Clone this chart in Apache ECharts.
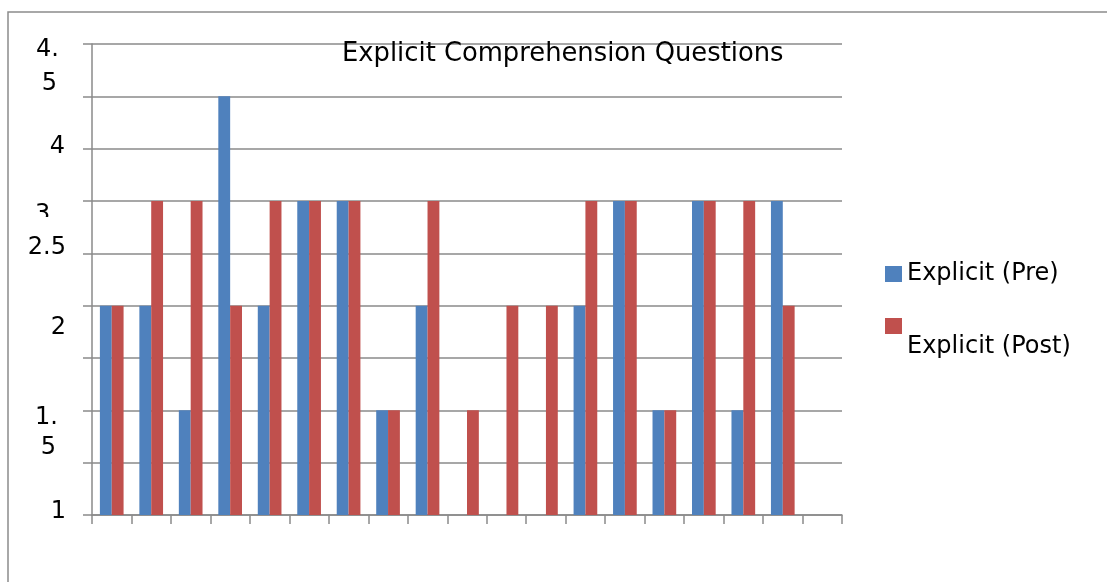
<!DOCTYPE html>
<html>
<head>
<meta charset="utf-8">
<script src="https://cdn.jsdelivr.net/npm/echarts@6/dist/echarts.min.js"></script>
<style>
  html, body { margin: 0; padding: 0; background: #fff; }
  #chart { width: 1107px; height: 582px; }
</style>
</head>
<body>
<div id="chart"></div>
<script>
// ---- data ----
const titleText = 'Explicit Comprehension Questions';
const seriesNames = ['Explicit (Pre)', 'Explicit (Post)'];
const categories = ['1', '2', '3', '4', '5', '6', '7', '8', '9', '10',
                    '11', '12', '13', '14', '15', '16', '17', '18', '19'];
const preValues  = [2, 2, 1, 4, 2, 3, 3, 1, 2, 0, 0, 0, 2, 3, 1, 3, 1, 3, null];
const postValues = [2, 3, 3, 2, 3, 3, 3, 1, 3, 1, 2, 2, 3, 3, 1, 3, 3, 2, null];
const yTickValues = [0, 1, 2, 2.5, 3, 3.5, 4.5];
const yTickLabels = ['1', '1.\n5', '2', '2.5', '3.', '4', '4.\n5'];

// ---- styling ----
const FONT = 'DejaVu Sans';
const GRID_GRAY = '#8a8a8a';
const COLORS = ['#4F81BD', '#C0504D'];

// Per-label placement: vertical shift (px) of the first line's centre from
// the tick, line height, and right padding for each line.
const labelPlacement = [
  { shift: -3, lh: 28, pad: [0] },
  { shift: 7,  lh: 30, pad: [8, 10] },
  { shift: 22, lh: 28, pad: [0] },
  { shift: -6, lh: 28, pad: [0] },
  { shift: 14, lh: 28, pad: [8] },
  { shift: -2, lh: 28, pad: [1] },
  { shift: 6,  lh: 34, pad: [7, 9] }
];

// Build rich styles and the formatted strings for the y-axis labels.
const yRich = {};
const yFormatted = {};
yTickValues.forEach(function (v, i) {
  const lines = yTickLabels[i].split('\n');
  const p = labelPlacement[i];
  const n = lines.length;
  const blockShift = p.shift + (n - 1) * p.lh / 2;
  const parts = [];
  lines.forEach(function (line, j) {
    const key = 't' + i + '_' + j;
    yRich[key] = {
      fontFamily: FONT, fontSize: 24, color: '#000',
      lineHeight: p.lh, padding: [0, p.pad[j] || 0, 0, 0]
    };
    parts.push('{' + key + '|' + line + '}');
  });
  if (Math.abs(blockShift) > 0.01) {
    const sk = 's' + i;
    yRich[sk] = { fontSize: 2, lineHeight: Math.abs(blockShift) * 2 };
    if (blockShift > 0) parts.unshift('{' + sk + '| }');
    else parts.push('{' + sk + '| }');
  }
  yFormatted[v] = parts.join('\n');
});

const chart = echarts.init(document.getElementById('chart'), null, { renderer: 'canvas' });

const option = {
  animation: false,
  backgroundColor: '#fff',
  title: {
    text: titleText,
    left: 342,
    top: 41,
    padding: 0,
    textStyle: { fontFamily: FONT, fontSize: 25.8, fontWeight: 'normal', color: '#000' }
  },
  legend: [
    {
      data: [seriesNames[0]],
      left: 885, top: 260, padding: 0,
      itemWidth: 17, itemHeight: 16, icon: 'rect',
      selectedMode: false,
      textStyle: { fontFamily: FONT, fontSize: 24, lineHeight: 28, color: '#000' }
    },
    {
      data: [seriesNames[1]],
      left: 885, top: 311, padding: 0,
      itemWidth: 17, itemHeight: 16, icon: 'rect',
      selectedMode: false,
      formatter: function (name) { return '{s| }\n{t|' + name + '}'; },
      textStyle: {
        fontFamily: FONT, fontSize: 24, color: '#000',
        rich: {
          s: { fontSize: 2, lineHeight: 42 },
          t: { fontFamily: FONT, fontSize: 24, lineHeight: 28, color: '#000' }
        }
      }
    }
  ],
  grid: { left: 92, right: 265, top: 44, bottom: 67, outerBoundsMode: 'none' },
  xAxis: {
    type: 'category',
    data: categories,
    boundaryGap: true,
    axisLine: { show: true, lineStyle: { color: GRID_GRAY, width: 1.5 } },
    axisTick: { show: true, length: 9, lineStyle: { color: GRID_GRAY, width: 1.5 } },
    axisLabel: { show: false },
    splitLine: { show: false }
  },
  yAxis: {
    type: 'value',
    min: 0, max: 4.5, interval: 0.5,
    axisLine: { show: true, lineStyle: { color: GRID_GRAY, width: 1.5 } },
    axisTick: { show: true, length: 9, lineStyle: { color: GRID_GRAY, width: 1.5 } },
    splitLine: { show: true, lineStyle: { color: GRID_GRAY, width: 1.5 } },
    axisLabel: {
      show: true,
      margin: 26,
      hideOverlap: false,
      formatter: function (v) { return yFormatted[v] !== undefined ? yFormatted[v] : ''; },
      rich: yRich
    }
  },
  series: [
    {
      name: seriesNames[0], type: 'bar', data: preValues,
      barWidth: '30%', barGap: '0%',
      itemStyle: { color: COLORS[0] }
    },
    {
      name: seriesNames[1], type: 'bar', data: postValues,
      barWidth: '30%', barGap: '0%',
      itemStyle: { color: COLORS[1] }
    }
  ],
  graphic: [
    // outer frame: left and top edges only
    {
      type: 'polyline', silent: true, z: 0,
      shape: { points: [[8, 600], [8, 12], [1120, 12]] },
      style: { fill: null, stroke: '#8c8c8c', lineWidth: 1.5 }
    },
    // masks the lower part of the "3." label
    {
      type: 'rect', silent: true, z: 100,
      shape: { x: 26, y: 217, width: 44, height: 17 },
      style: { fill: '#fff' }
    }
  ]
};

chart.setOption(option);
</script>
</body>
</html>
